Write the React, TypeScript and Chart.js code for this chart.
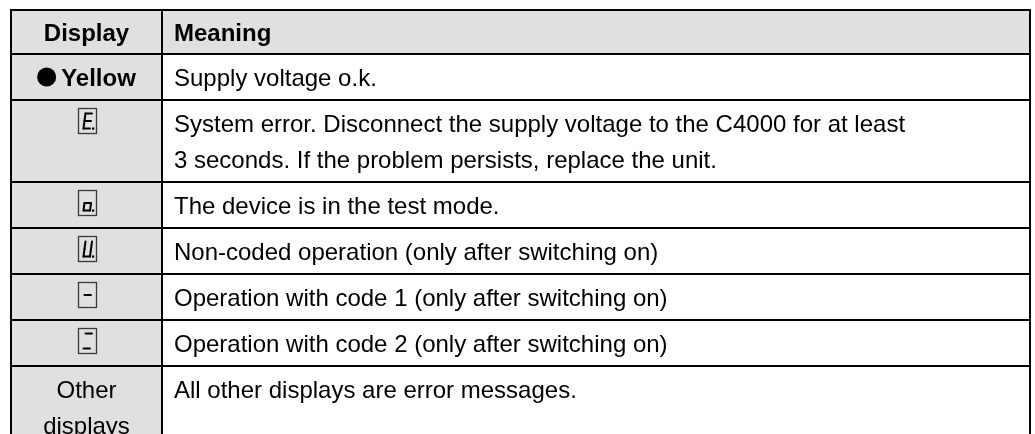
import React, { useEffect, useRef } from 'react';
import { Chart, registerables } from 'chart.js';

Chart.register(...registerables);

// ---- content ----
const headerLabels = ['Display', 'Meaning'];
const displayKinds = ['led', 'seg', 'seg', 'seg', 'seg', 'seg', 'text'];
const displayTexts = [['Yellow'], [''], [''], [''], [''], [''], ['Other', 'displays']];
const displaySegments = ['', 'adefg.', 'cdeg.', 'bcdef.', 'g', 'ad', ''];
const meanings = [
  ['Supply voltage o.k.'],
  [
    'System error. Disconnect the supply voltage to the C4000 for at least',
    '3 seconds. If the problem persists, replace the unit.',
  ],
  ['The device is in the test mode.'],
  ['Non-coded operation (only after switching on)'],
  ['Operation with code 1 (only after switching on)'],
  ['Operation with code 2 (only after switching on)'],
  ['All other displays are error messages.'],
];

// ---- layout (styles) ----
const HEADER_H = 44;
const LINE_H = 36;
const ROW_PAD = 10;
const TABLE_W = 1019;
const COL1_W = 151;
const FONT = '"Liberation Sans", Arial, sans-serif';
const FONT_SIZE = 24;
const CAP_HALF = 8.5;
const GRAY = '#e0e0e0';

const rowLines = meanings.map((m, i) => Math.max(m.length, displayTexts[i].length));
const rowHeights = [HEADER_H, ...rowLines.map((n) => ROW_PAD + n * LINE_H)];
const rowEdges: number[] = [0];
rowHeights.forEach((h) => rowEdges.push(rowEdges[rowEdges.length - 1] + h));
const TABLE_H = rowEdges[rowEdges.length - 1];

function drawSegments(ctx: CanvasRenderingContext2D, cx: number, cy: number, spec: string) {
  const w = 18;
  const h = 25;
  const x0 = Math.round(cx - w / 2) + 0.5;
  const y0 = Math.round(cy - h / 2) + 0.5;
  ctx.save();
  ctx.strokeStyle = '#3a3a3a';
  ctx.lineWidth = 1.3;
  ctx.strokeRect(x0, y0, w, h);
  const P: Record<string, [number, number]> = {
    TL: [7, 5], TR: [13.5, 5],
    ML: [6, 12.5], MR: [12.5, 12.5],
    BL: [5, 20], BR: [11.5, 20],
  };
  const segs: Record<string, [string, string]> = {
    a: ['TL', 'TR'], b: ['TR', 'MR'], c: ['MR', 'BR'], d: ['BL', 'BR'],
    e: ['ML', 'BL'], f: ['TL', 'ML'], g: ['ML', 'MR'],
  };
  ctx.strokeStyle = '#000';
  ctx.lineWidth = 2;
  ctx.lineCap = 'round';
  for (const ch of spec) {
    if (ch === '.') {
      ctx.fillStyle = '#000';
      ctx.fillRect(x0 + 13.5, y0 + 19, 2.2, 2.2);
      continue;
    }
    const s = segs[ch];
    if (!s) continue;
    const a = P[s[0]];
    const b = P[s[1]];
    ctx.beginPath();
    ctx.moveTo(x0 + a[0], y0 + a[1]);
    ctx.lineTo(x0 + b[0], y0 + b[1]);
    ctx.stroke();
  }
  ctx.restore();
}

const tablePlugin = {
  id: 'tableDraw',
  afterDraw(chart: any) {
    const ctx: CanvasRenderingContext2D = chart.ctx;
    const xs = chart.scales.x;
    const ys = chart.scales.y;
    const X = (v: number) => xs.getPixelForValue(v);
    const Y = (v: number) => ys.getPixelForValue(v);
    const left = X(0);
    const split = X(COL1_W);
    const right = X(TABLE_W);
    const top = Y(0);
    const bottom = Y(TABLE_H);

    ctx.save();
    ctx.fillStyle = '#fff';
    ctx.fillRect(left, top, right - left, bottom - top);
    ctx.fillStyle = GRAY;
    ctx.fillRect(left, top, right - left, Y(rowEdges[1]) - top);
    ctx.fillRect(left, top, split - left, bottom - top);

    ctx.fillStyle = '#000';
    ctx.textBaseline = 'alphabetic';
    const colCenter = (left + split) / 2;
    const textX = split + 12;
    const hy = (Y(rowEdges[0]) + Y(rowEdges[1])) / 2 + CAP_HALF;
    ctx.font = `bold ${FONT_SIZE}px ${FONT}`;
    ctx.textAlign = 'center';
    ctx.fillText(headerLabels[0], colCenter, hy);
    ctx.textAlign = 'left';
    ctx.fillText(headerLabels[1], textX, hy);

    meanings.forEach((lines, i) => {
      const rTop = Y(rowEdges[i + 1]);
      const lineC = (k: number) => rTop + ROW_PAD / 2 + LINE_H / 2 + k * LINE_H;
      ctx.font = `${FONT_SIZE}px ${FONT}`;
      ctx.textAlign = 'left';
      lines.forEach((t, k) => ctx.fillText(t, textX, lineC(k) + CAP_HALF));
      const kind = displayKinds[i];
      if (kind === 'led') {
        ctx.font = `bold ${FONT_SIZE}px ${FONT}`;
        const label = displayTexts[i][0];
        const tw = ctx.measureText(label).width;
        const r = 9.5;
        const gap = 5;
        const total = 2 * r + gap + tw;
        const sx = colCenter - total / 2;
        ctx.beginPath();
        ctx.arc(sx + r, lineC(0), r, 0, Math.PI * 2);
        ctx.fill();
        ctx.textAlign = 'left';
        ctx.fillText(label, sx + 2 * r + gap, lineC(0) + CAP_HALF);
      } else if (kind === 'seg') {
        drawSegments(ctx, colCenter, lineC(0) - 3, displaySegments[i]);
      } else {
        ctx.font = `${FONT_SIZE}px ${FONT}`;
        ctx.textAlign = 'center';
        displayTexts[i].forEach((t, k) => ctx.fillText(t, colCenter, lineC(k) + CAP_HALF));
      }
    });

    ctx.strokeStyle = '#000';
    ctx.lineWidth = 2;
    ctx.beginPath();
    rowEdges.forEach((e) => {
      const y = Math.round(Y(e));
      ctx.moveTo(left - 1, y);
      ctx.lineTo(right + 1, y);
    });
    [left, split, right].forEach((x) => {
      const xx = Math.round(x);
      ctx.moveTo(xx, top);
      ctx.lineTo(xx, bottom);
    });
    ctx.stroke();
    ctx.restore();
  },
};

export default function App() {
  const ref = useRef<HTMLCanvasElement | null>(null);
  useEffect(() => {
    document.body.style.margin = '0';
    document.body.style.overflow = 'hidden';
    const canvas = ref.current;
    if (!canvas) return;
    const chart = new Chart(canvas, {
      type: 'scatter',
      data: { datasets: [{ data: [], pointRadius: 0 }] },
      options: {
        responsive: false,
        animation: false,
        events: [],
        layout: { padding: { left: 11, top: 10, right: 5, bottom: 2 } },
        scales: {
          x: { type: 'linear', min: 0, max: TABLE_W, display: false },
          y: { type: 'linear', min: 0, max: TABLE_H, reverse: true, display: false },
        },
        plugins: { legend: { display: false }, tooltip: { enabled: false } },
      },
      plugins: [tablePlugin],
    } as any);
    return () => chart.destroy();
  }, []);
  return (
    <canvas
      ref={ref}
      width={1035}
      height={10 + TABLE_H + 2}
      style={{ display: 'block', width: 1035, height: 10 + TABLE_H + 2 }}
    />
  );
}
